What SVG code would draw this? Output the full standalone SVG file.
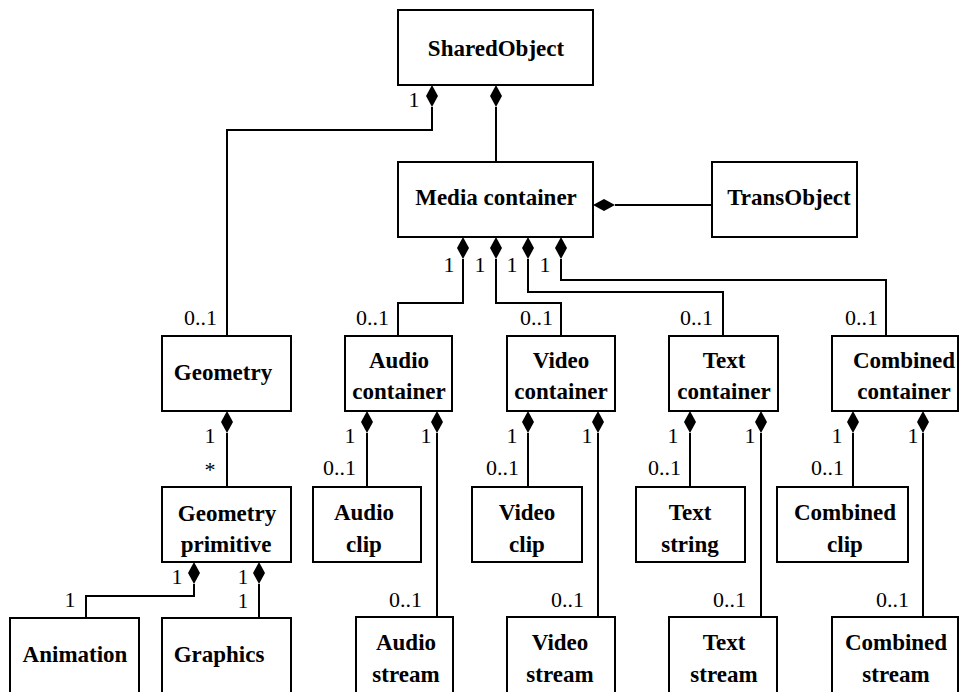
<svg xmlns="http://www.w3.org/2000/svg" xmlns:xlink="http://www.w3.org/1999/xlink" width="962" height="692" viewBox="0 0 962 692">
<style>
.box{fill:#fff;stroke:#000;stroke-width:2}
.t{font-family:"Liberation Serif","Times New Roman",serif;font-weight:bold;font-size:23px;text-anchor:middle;fill:#000}
.m{font-family:"Liberation Serif","Times New Roman",serif;font-size:22px;fill:#000}
.s{font-size:21px}
.e{text-anchor:end}
.mid{text-anchor:middle}
.c{fill:none;stroke:#000;stroke-width:2}
.d{fill:#000;stroke:none}
</style>
<defs>
<path id="dv" d="M0,0 L6,11 L0,22 L-6,11 Z"/>
</defs>
<rect width="962" height="692" fill="#fff"/>

<g id="connectors">
<polyline class="c" points="432,107 432,130 227,130 227,336"/>
<polyline class="c" points="496,107 496,162"/>
<polyline class="c" points="615,205 712,205"/>
<polyline class="c" points="463,259 463,303 398,303 398,336"/>
<polyline class="c" points="496,259 496,303 561,303 561,336"/>
<polyline class="c" points="528,259 528,292 723,292 723,336"/>
<polyline class="c" points="561,259 561,280 886,280 886,336"/>
<polyline class="c" points="227,433 227,487"/>
<polyline class="c" points="367,433 367,487"/>
<polyline class="c" points="437,433 437,617"/>
<polyline class="c" points="528,433 528,487"/>
<polyline class="c" points="598,433 598,617"/>
<polyline class="c" points="690,433 690,487"/>
<polyline class="c" points="761,433 761,617"/>
<polyline class="c" points="853,433 853,487"/>
<polyline class="c" points="923,433 923,617"/>
<polyline class="c" points="194,584 194,596 86,596 86,618"/>
<polyline class="c" points="259,584 259,618"/>
<use href="#dv" class="d" x="432" y="85"/>
<use href="#dv" class="d" x="496" y="85"/>
<path class="d" d="M593,205 L604,199 L615,205 L604,211 Z"/>
<use href="#dv" class="d" x="463" y="237"/>
<use href="#dv" class="d" x="496" y="237"/>
<use href="#dv" class="d" x="528" y="237"/>
<use href="#dv" class="d" x="561" y="237"/>
<use href="#dv" class="d" x="227" y="411"/>
<use href="#dv" class="d" x="367" y="411"/>
<use href="#dv" class="d" x="437" y="411"/>
<use href="#dv" class="d" x="528" y="411"/>
<use href="#dv" class="d" x="598" y="411"/>
<use href="#dv" class="d" x="690" y="411"/>
<use href="#dv" class="d" x="761" y="411"/>
<use href="#dv" class="d" x="853" y="411"/>
<use href="#dv" class="d" x="923" y="411"/>
<use href="#dv" class="d" x="194" y="562"/>
<use href="#dv" class="d" x="259" y="562"/>
</g>

<g id="labels">
<text class="m mid" x="414" y="107">1</text>
<text class="m mid" x="449" y="272">1</text>
<text class="m mid" x="480" y="272">1</text>
<text class="m mid" x="512" y="272">1</text>
<text class="m mid" x="545" y="272">1</text>
<text class="m e" x="217" y="325">0..1</text>
<text class="m e" x="389" y="325">0..1</text>
<text class="m e" x="553" y="325">0..1</text>
<text class="m e" x="713" y="325">0..1</text>
<text class="m e" x="878" y="325">0..1</text>
<text class="m mid" x="210" y="443">1</text>
<text class="m mid" x="210" y="477">*</text>
<text class="m mid" x="350" y="443">1</text>
<text class="m mid" x="426" y="443">1</text>
<text class="m mid" x="512" y="443">1</text>
<text class="m mid" x="587" y="443">1</text>
<text class="m mid" x="673" y="443">1</text>
<text class="m mid" x="750" y="443">1</text>
<text class="m mid" x="837" y="443">1</text>
<text class="m mid" x="913" y="443">1</text>
<text class="m e" x="356" y="475">0..1</text>
<text class="m e" x="519" y="475">0..1</text>
<text class="m e" x="681" y="475">0..1</text>
<text class="m e" x="844" y="475">0..1</text>
<text class="m e" x="422" y="607">0..1</text>
<text class="m e" x="584" y="607">0..1</text>
<text class="m e" x="746" y="607">0..1</text>
<text class="m e" x="909" y="607">0..1</text>
<text class="m mid" x="177" y="584">1</text>
<text class="m s mid" x="243" y="584">1</text>
<text class="m s mid" x="243" y="608">1</text>
<text class="m mid" x="70" y="607">1</text>
</g>

<g id="sharedobject"><rect class="box" x="398" y="10" width="195" height="75"/><text class="t" x="496" y="56">SharedObject</text></g>
<g id="mediacontainer"><rect class="box" x="398" y="162" width="195" height="75"/><text class="t" x="496" y="205">Media container</text></g>
<g id="transobject"><rect class="box" x="712" y="162" width="145" height="75"/><text class="t" x="789" y="205">TransObject</text></g>
<g id="geometry"><rect class="box" x="162" y="336" width="129" height="75"/><text class="t" x="223" y="380">Geometry</text></g>
<g id="audiocontainer"><rect class="box" x="345" y="336" width="107" height="75"/><text class="t" x="399" y="368">Audio</text><text class="t" x="399" y="399">container</text></g>
<g id="videocontainer"><rect class="box" x="507" y="336" width="108" height="75"/><text class="t" x="561" y="368">Video</text><text class="t" x="561" y="399">container</text></g>
<g id="textcontainer"><rect class="box" x="669" y="336" width="109" height="75"/><text class="t" x="724" y="368">Text</text><text class="t" x="724" y="399">container</text></g>
<g id="combinedcontainer"><rect class="box" x="832" y="336" width="126" height="75"/><text class="t" x="904" y="368">Combined</text><text class="t" x="904" y="399">container</text></g>
<g id="geometryprimitive"><rect class="box" x="162" y="487" width="129" height="75"/><text class="t" x="227" y="521">Geometry</text><text class="t" x="226" y="552">primitive</text></g>
<g id="audioclip"><rect class="box" x="313" y="487" width="108" height="75"/><text class="t" x="364" y="520">Audio</text><text class="t" x="364" y="552">clip</text></g>
<g id="videoclip"><rect class="box" x="472" y="487" width="110" height="75"/><text class="t" x="527" y="520">Video</text><text class="t" x="527" y="552">clip</text></g>
<g id="textstring"><rect class="box" x="636" y="487" width="109" height="75"/><text class="t" x="690" y="520">Text</text><text class="t" x="690" y="552">string</text></g>
<g id="combinedclip"><rect class="box" x="777" y="487" width="131" height="75"/><text class="t" x="845" y="520">Combined</text><text class="t" x="845" y="552">clip</text></g>
<g id="animation"><rect class="box" x="10" y="618" width="129" height="85"/><text class="t" x="75" y="662">Animation</text></g>
<g id="graphics"><rect class="box" x="162" y="618" width="129" height="85"/><text class="t" x="219" y="662">Graphics</text></g>
<g id="audiostream"><rect class="box" x="356" y="617" width="97" height="85"/><text class="t" x="406" y="650">Audio</text><text class="t" x="406" y="682">stream</text></g>
<g id="videostream"><rect class="box" x="507" y="617" width="108" height="85"/><text class="t" x="560" y="650">Video</text><text class="t" x="560" y="682">stream</text></g>
<g id="textstream"><rect class="box" x="669" y="617" width="108" height="85"/><text class="t" x="724" y="650">Text</text><text class="t" x="724" y="682">stream</text></g>
<g id="combinedstream"><rect class="box" x="832" y="617" width="126" height="85"/><text class="t" x="896" y="650">Combined</text><text class="t" x="896" y="682">stream</text></g>
</svg>
